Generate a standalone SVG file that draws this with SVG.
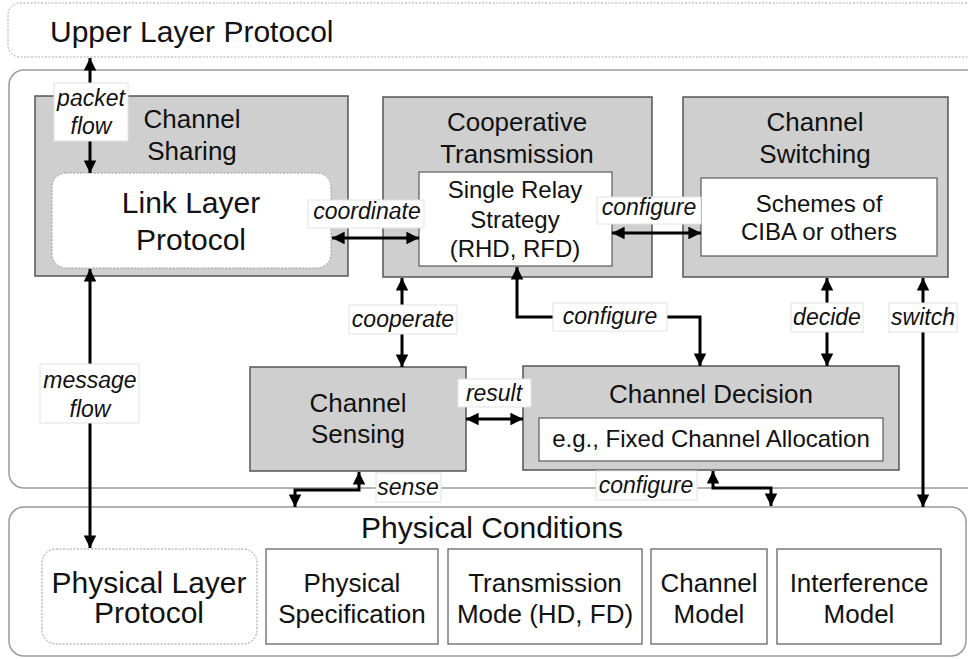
<svg xmlns="http://www.w3.org/2000/svg" width="968" height="659" viewBox="0 0 968 659">
<defs>
<marker id="ah" viewBox="0 0 10 10" refX="10" refY="5" markerWidth="4.2" markerHeight="4.2" orient="auto-start-reverse" markerUnits="strokeWidth">
<path d="M0,0 L10,5 L0,10 z" fill="#000"/>
</marker>
<style>
text{font-family:"Liberation Sans",Arial,sans-serif;fill:#111;text-anchor:middle}
.big{font-size:30px}
.t{font-size:26px}
.s{font-size:24px}
.lb{font-size:23px;font-style:italic}
.node{fill:#d0cfd0;stroke:#555;stroke-width:1.5}
.inner{fill:#fff;stroke:#666;stroke-width:1.3}
.dash{fill:#fff;stroke:#999;stroke-width:1;stroke-dasharray:2 1.5}
.cont{fill:#fff;stroke:#9a9a9a;stroke-width:1.5}
.lbox{fill:#fff;stroke:#e2e2e2;stroke-width:1}
.c{fill:none;stroke:#000;stroke-width:3;marker-end:url(#ah)}
.cc{fill:none;stroke:#000;stroke-width:3;marker-start:url(#ah);marker-end:url(#ah)}
</style>
</defs>
<rect width="968" height="659" fill="#fff"/>

<g id="upper">
<rect x="8" y="3" width="975" height="54" rx="12" fill="#fff" stroke="#aaa" stroke-width="1" stroke-dasharray="2 1.5"/>
<text class="big" x="50" y="42" style="text-anchor:start">Upper Layer Protocol</text>
</g>

<g id="middle">
<rect class="cont" x="9" y="70" width="975" height="418" rx="15"/>
</g>

<g id="bottom">
<rect class="cont" x="9" y="507" width="957" height="149" rx="15"/>
<text class="big" x="492" y="538">Physical Conditions</text>
</g>

<g id="channel-sharing">
<rect class="node" x="35" y="96" width="313" height="180"/>
<text class="t" x="192" y="128">Channel</text>
<text class="t" x="192" y="160">Sharing</text>
</g>

<g id="link-layer">
<rect class="dash" x="52" y="173" width="279" height="95" rx="14"/>
<text class="big" x="191" y="213">Link Layer</text>
<text class="big" x="191" y="250">Protocol</text>
</g>

<g id="cooperative-transmission">
<rect class="node" x="383" y="97" width="269" height="180"/>
<text class="t" x="517" y="131">Cooperative</text>
<text class="t" x="517" y="163">Transmission</text>
</g>

<g id="single-relay">
<rect class="inner" x="419" y="172" width="193" height="94"/>
<text class="s" x="515" y="198">Single Relay</text>
<text class="s" x="515" y="228">Strategy</text>
<text class="s" x="515" y="257">(RHD, RFD)</text>
</g>

<g id="channel-switching">
<rect class="node" x="683" y="97" width="265" height="180"/>
<text class="t" x="815" y="131">Channel</text>
<text class="t" x="815" y="163">Switching</text>
</g>

<g id="schemes">
<rect class="inner" x="701" y="178" width="236" height="78"/>
<text class="s" x="819" y="212">Schemes of</text>
<text class="s" x="819" y="240">CIBA or others</text>
</g>

<g id="channel-sensing">
<rect class="node" x="250" y="367" width="216" height="104"/>
<text class="t" x="358" y="412">Channel</text>
<text class="t" x="358" y="443">Sensing</text>
</g>

<g id="channel-decision">
<rect class="node" x="523" y="366" width="376" height="104"/>
<text class="t" x="711" y="403">Channel Decision</text>
</g>

<g id="fixed-allocation">
<rect class="inner" x="539" y="418" width="344" height="43"/>
<text class="s" x="711" y="447">e.g., Fixed Channel Allocation</text>
</g>

<g id="physical-layer">
<rect class="dash" x="42" y="549" width="215" height="95" rx="14"/>
<text class="big" x="149" y="593">Physical Layer</text>
<text class="big" x="149" y="623">Protocol</text>
</g>

<g id="physical-spec">
<rect class="inner" x="266" y="549" width="172" height="95"/>
<text class="t" x="352" y="592">Physical</text>
<text class="t" x="352" y="623">Specification</text>
</g>

<g id="transmission-mode">
<rect class="inner" x="448" y="549" width="194" height="95"/>
<text class="t" x="545" y="592">Transmission</text>
<text class="t" x="545" y="623">Mode (HD, FD)</text>
</g>

<g id="channel-model">
<rect class="inner" x="651" y="549" width="116" height="95"/>
<text class="t" x="709" y="592">Channel</text>
<text class="t" x="709" y="623">Model</text>
</g>

<g id="interference-model">
<rect class="inner" x="777" y="549" width="164" height="95"/>
<text class="t" x="859" y="592">Interference</text>
<text class="t" x="859" y="623">Model</text>
</g>

<g id="connectors">
<path class="cc" d="M90,58 V173"/>
<path class="cc" d="M90,269 V548"/>
<path class="cc" d="M332,238 H419"/>
<path class="cc" d="M612,233 H701"/>
<path class="cc" d="M402,278 V367"/>
<path class="cc" d="M466,419 H523"/>
<path class="cc" d="M517,267 V317 H700 V366"/>
<path class="cc" d="M827,278 V366"/>
<path class="cc" d="M923,278 V507"/>
<path class="cc" d="M359,472 V490 H295 V507"/>
<path class="cc" d="M713,471 V488 H771 V506"/>

<rect class="lbox" x="54" y="83" width="74" height="58"/>
<text class="lb" x="91" y="106">packet</text>
<text class="lb" x="91" y="134">flow</text>

<rect class="lbox" x="40" y="364" width="99" height="59"/>
<text class="lb" x="90" y="388">message</text>
<text class="lb" x="90" y="417">flow</text>

<rect class="lbox" x="308" y="200" width="116" height="28"/>
<text class="lb" x="367" y="219">coordinate</text>

<rect class="lbox" x="597" y="197" width="104" height="27"/>
<text class="lb" x="649" y="215">configure</text>

<rect class="lbox" x="349" y="305" width="108" height="29"/>
<text class="lb" x="403" y="327">cooperate</text>

<rect class="lbox" x="458" y="379" width="73" height="28"/>
<text class="lb" x="494" y="401">result</text>

<rect class="lbox" x="553" y="303" width="114" height="28"/>
<text class="lb" x="610" y="324">configure</text>

<rect class="lbox" x="791" y="303" width="72" height="29"/>
<text class="lb" x="827" y="325">decide</text>

<rect class="lbox" x="889" y="303" width="68" height="29"/>
<text class="lb" x="923" y="325">switch</text>

<rect class="lbox" x="376" y="473" width="65" height="29"/>
<text class="lb" x="408" y="495">sense</text>

<rect class="lbox" x="596" y="471" width="101" height="29"/>
<text class="lb" x="646" y="493">configure</text>
</g>
</svg>
